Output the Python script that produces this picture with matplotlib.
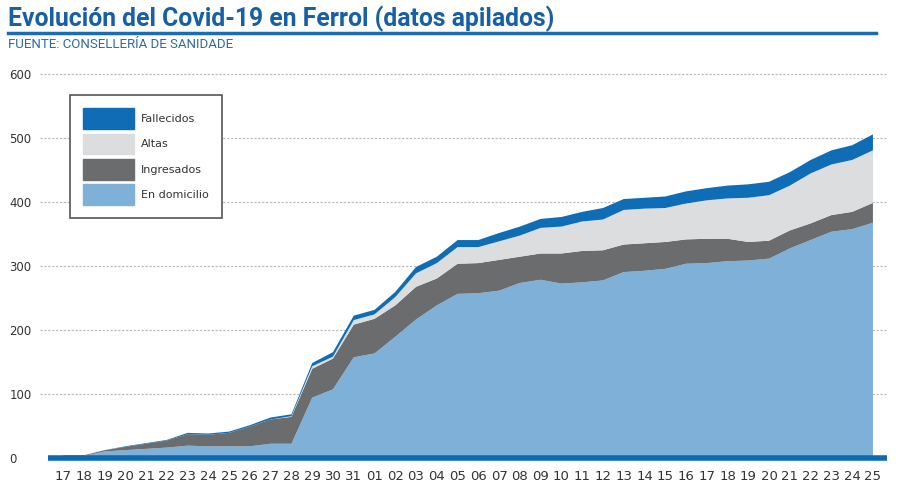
import matplotlib
matplotlib.use("Agg")
import matplotlib.pyplot as plt
from matplotlib.patches import Patch
import numpy as np

# days 17/03 .. 25/04
dias = ["17", "18", "19", "20", "21", "22", "23", "24", "25", "26", "27", "28",
        "29", "30", "31", "01", "02", "03", "04", "05", "06", "07", "08", "09",
        "10", "11", "12", "13", "14", "15", "16", "17", "18", "19", "20", "21",
        "22", "23", "24", "25"]

en_domicilio = [4, 4, 11, 13, 15, 17, 20, 19, 19, 19, 23, 23,
                95, 108, 158, 164, 190, 217, 239, 257, 258, 262, 274, 279,
                273, 275, 278, 291, 293, 296, 304, 305, 308, 309, 312, 328,
                341, 354, 358, 368]
ingresados = [1, 1, 2, 5, 8, 11, 18, 18, 21, 31, 38, 42,
              45, 48, 51, 54, 49, 51, 42, 47, 47, 48, 41, 41,
              47, 49, 47, 43, 43, 42, 38, 38, 35, 29, 28, 28,
              26, 26, 27, 31]
altas = [0, 0, 0, 0, 0, 0, 0, 0, 0, 0, 0, 1,
         4, 3, 7, 7, 13, 21, 24, 26, 25, 29, 33, 40,
         42, 46, 48, 54, 54, 53, 56, 60, 63, 69, 71, 70,
         78, 79, 81, 82]
fallecidos = [0, 0, 0, 1, 1, 1, 2, 2, 2, 2, 3, 3,
              5, 7, 7, 7, 8, 10, 10, 11, 11, 13, 14, 14,
              15, 15, 18, 17, 17, 18, 19, 19, 20, 21, 21, 21,
              21, 22, 23, 25]

c_dom = "#7fb0d7"
c_ing = "#6b6c6e"
c_alt = "#dcdddf"
c_fal = "#0f6db5"
azul = "#175fa6"

fig = plt.figure(figsize=(9, 4.98), dpi=100)
ax = fig.add_axes([0.0444, 0.0665, 0.941, 0.7975])

x = np.arange(len(dias))
ax.stackplot(x, en_domicilio, ingresados, altas, fallecidos,
             colors=[c_dom, c_ing, c_alt, c_fal], linewidth=0, zorder=2)

ax.set_xlim(-1.11, 39.67)
ax.set_ylim(-10, 610)
ax.set_yticks([0, 100, 200, 300, 400, 500, 600])
ax.set_yticklabels(["0", "100", "200", "300", "400", "500", "600"])
for v in [100, 200, 300, 400, 500, 600]:
    ax.axhline(v, color="#b5b5b5", lw=0.8, ls=(0, (2, 1.5)), zorder=1)
ax.axhline(0, xmin=8 / 847, xmax=1, color="#0d6ab3", lw=4, zorder=3,
           solid_capstyle="butt")

ax.set_xticks(x)
ax.set_xticklabels(dias)
ax.tick_params(axis="x", length=0, pad=3.5, labelsize=9.5, labelcolor="#333333")
ax.tick_params(axis="y", length=0, pad=22, labelsize=8.5, labelcolor="#333333")
for lab in ax.get_yticklabels():
    lab.set_horizontalalignment("left")
for s in ax.spines.values():
    s.set_visible(False)

handles = [Patch(color=c_fal, label="Fallecidos"),
           Patch(color=c_alt, label="Altas"),
           Patch(color=c_ing, label="Ingresados"),
           Patch(color=c_dom, label="En domicilio")]
leg = fig.legend(handles=handles, loc="upper left",
                 bbox_to_anchor=(70 / 900, 1 - 95 / 498), fontsize=8,
                 handlelength=4.6, handleheight=2.5, labelspacing=0.4,
                 handletextpad=0.6, borderpad=1.2, borderaxespad=0,
                 fancybox=False, framealpha=1)
leg.get_frame().set_edgecolor("#555555")
leg.get_frame().set_linewidth(1.2)
for t in leg.get_texts():
    t.set_color("#333333")

fig.text(8 / 900, 1 - 19 / 498, "Evolución del Covid-19 en Ferrol (datos apilados)",
         fontsize=17.8, fontweight="bold", color=azul, va="center",
         family=["Roboto", "DejaVu Sans"])
fig.add_artist(plt.Line2D([8 / 900, 876 / 900], [1 - 33.5 / 498, 1 - 33.5 / 498],
                          color="#1a6cb5", lw=2.5))
fig.text(8 / 900, 1 - 45 / 498, "FUENTE: CONSELLERÍA DE SANIDADE",
         fontsize=9.5, color="#2f6aa3", va="center",
         family=["Roboto", "DejaVu Sans"])

fig.savefig("out.png", dpi=100)
